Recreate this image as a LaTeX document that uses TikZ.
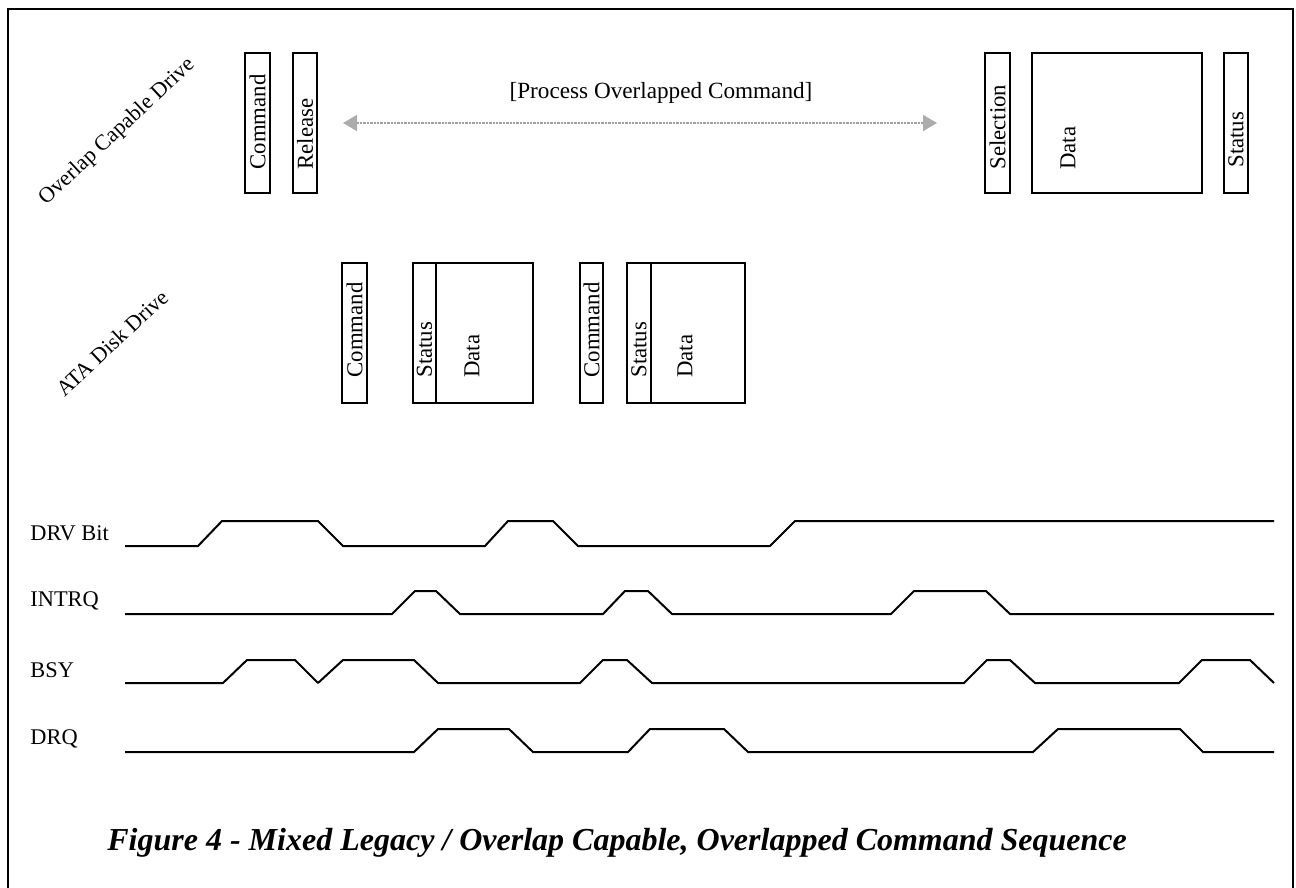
\documentclass[tikz,border=0pt]{standalone}
\usepackage{fontspec}
\setmainfont{Liberation Serif}
\usetikzlibrary{arrows.meta,calc}
\begin{document}
\begin{tikzpicture}[x=0.5pt,y=-0.5pt,
  frameline/.style={line width=1.3pt},
  cell/.style={draw, line width=0.9pt, inner sep=0pt, outer sep=0pt, anchor=north west},
  vtext/.style={rotate=90, anchor=west, inner sep=0pt, font=\fontsize{11.4}{13}\selectfont},
  drivelabel/.style={rotate=43, inner sep=0pt, font=\fontsize{11}{13}\selectfont},
  siglabel/.style={anchor=west, inner sep=0pt, font=\fontsize{11.2}{13}\selectfont},
  wave/.style={line width=1pt, line join=round},
  proc/.style={gray!75, line width=0.9pt, dash pattern=on 1.2pt off 0.5pt,
    {Triangle[width=8pt,length=7pt,color=gray!65]}-{Triangle[width=8pt,length=7pt,color=gray!65]}}
]
\useasboundingbox (0,0) rectangle (1296,888);

% outer frame (open at the bottom)
\draw[frameline] (8,888) -- (8,9) -- (1293,9) -- (1293,888);

% ---------- overlap capable drive ----------
\node[drivelabel] (ocd) at (117,132) {Overlap Capable Drive};

\node[cell, minimum width={25*0.5pt}, minimum height={140*0.5pt}] (cmdA) at (245,53) {};
\node[cell, minimum width={24*0.5pt}, minimum height={140*0.5pt}] (relA) at (293,53) {};
\node[vtext] (tcmdA) at ($(cmdA.south)+(0,-23)$) {Command};
\node[vtext] (trelA) at ($(relA.south)+(0,-23)$) {Release};

\coordinate (procL) at (343,123);
\coordinate (procR) at (937,123);
\draw[proc] (procL) -- (procR);
\node[inner sep=0pt, font=\fontsize{11.6}{13}\selectfont] (proctext) at (661,93) {[Process Overlapped Command]};

\node[cell, minimum width={25*0.5pt}, minimum height={140*0.5pt}] (selB) at (985,53) {};
\node[cell, minimum width={170*0.5pt}, minimum height={140*0.5pt}] (datB) at (1032,53) {};
\node[cell, minimum width={24*0.5pt}, minimum height={140*0.5pt}] (staB) at (1224,53) {};
\node[vtext] (tselB) at ($(selB.south)+(0,-23)$) {Selection};
\node[vtext] (tdatB) at ($(datB.south west)+(36,-23)$) {Data};
\node[vtext] (tstaB) at ($(staB.south)+(0,-25)$) {Status};

% ---------- ATA disk drive ----------
\node[drivelabel] (ata) at (112,343) {ATA Disk Drive};

\node[cell, minimum width={25*0.5pt}, minimum height={140*0.5pt}] (cmdC) at (342,263) {};
\node[cell, minimum width={23*0.5pt}, minimum height={140*0.5pt}] (staC) at (413,263) {};
\node[cell, minimum width={97*0.5pt}, minimum height={140*0.5pt}] (datC) at (436,263) {};
\node[cell, minimum width={23*0.5pt}, minimum height={140*0.5pt}] (cmdD) at (580,263) {};
\node[cell, minimum width={24*0.5pt}, minimum height={140*0.5pt}] (staD) at (627,263) {};
\node[cell, minimum width={94*0.5pt}, minimum height={140*0.5pt}] (datD) at (651,263) {};
\node[vtext] (tcmdC) at ($(cmdC.south)+(0,-25)$) {Command};
\node[vtext] (tstaC) at ($(staC.south)+(0,-25)$) {Status};
\node[vtext] (tdatC) at ($(datC.south west)+(36,-25)$) {Data};
\node[vtext] (tcmdD) at ($(cmdD.south)+(0,-25)$) {Command};
\node[vtext] (tstaD) at ($(staD.south)+(0,-25)$) {Status};
\node[vtext] (tdatD) at ($(datD.south west)+(34,-25)$) {Data};

% ---------- signal timing ----------
\node[siglabel] (drv) at (30,533) {DRV Bit};
\node[siglabel] (intrq) at (30,601) {INTRQ};
\node[siglabel] (bsy) at (30,670) {BSY};
\node[siglabel] (drq) at (30,739) {DRQ};

\draw[wave] (125,546) -- (198,546) -- (222,521) -- (318,521) -- (343,546) -- (485,546)
  -- (508,521) -- (553,521) -- (578,546) -- (770,546) -- (795,521) -- (1274,521);

\draw[wave] (125,614) -- (392,614) -- (415,591) -- (436,591) -- (460,614) -- (603,614)
  -- (625,591) -- (648,591) -- (672,614) -- (891,614) -- (914,591) -- (986,591)
  -- (1010,614) -- (1274,614);

\draw[wave] (125,683) -- (223,683) -- (247,660) -- (295,660) -- (318,683) -- (343,660)
  -- (414,660) -- (438,683) -- (580,683) -- (603,660) -- (627,660) -- (652,683)
  -- (964,683) -- (987,660) -- (1010,660) -- (1035,683) -- (1179,683) -- (1202,660)
  -- (1250,660) -- (1274,683);

\draw[wave] (125,752) -- (414,752) -- (438,729) -- (509,729) -- (533,752) -- (628,752)
  -- (650,729) -- (724,729) -- (748,752) -- (1033,752) -- (1058,729) -- (1180,729)
  -- (1203,752) -- (1274,752);

% ---------- caption ----------
\node[anchor=west, inner sep=0pt, font=\bfseries\itshape\fontsize{16}{18}\selectfont] (caption) at (107,843)
  {Figure 4 - Mixed Legacy / Overlap Capable, Overlapped Command Sequence};
\end{tikzpicture}
\end{document}
